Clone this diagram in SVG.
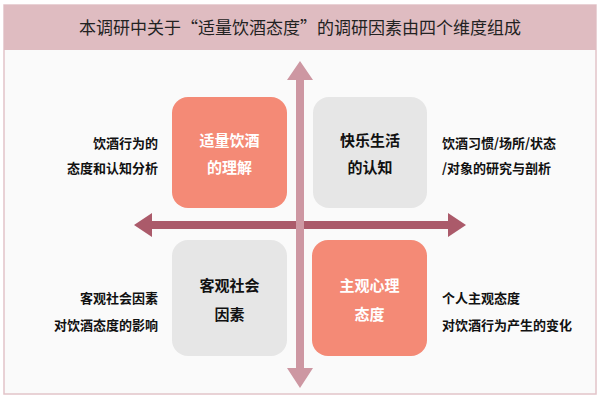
<svg xmlns="http://www.w3.org/2000/svg" width="600" height="400" viewBox="0 0 600 400">
<style>
text{font-family:"Noto Sans CJK SC","Noto Sans",sans-serif}
.bt{font-size:15px;font-weight:bold;text-anchor:middle}
.lb{font-size:13px;font-weight:bold;fill:#111}
.w{fill:#fff}.d{fill:#111}
.sal{fill:#f48a76}.gr{fill:#e6e6e6}
</style>
<rect x="0" y="0" width="600" height="400" fill="#fff"/>
<rect x="4" y="5" width="592" height="389" fill="#fafafa" stroke="#e2c4c9" stroke-width="1.5"/>
<rect x="4" y="5" width="592" height="45" fill="#dfbcc1"/>
<text x="300" y="34" font-size="17" text-anchor="middle" fill="#222">本调研中关于“适量饮酒态度”的调研因素由四个维度组成</text>
<g id="connectors">
<path d="M152,221 H448 V213 L466,225 L448,237 V229 H152 V237 L134,225 L152,213 Z" fill="#ab5a6a"/>
<path d="M296,80 V368 H287 L300,388 L313,368 H304 V80 H313 L300,61 L287,80 Z" fill="#cd97a2"/>
</g>
<g id="n1"><rect x="172" y="97" width="115" height="111" rx="16" class="sal"/><text x="229.5" y="146" class="bt w">适量饮酒</text><text x="229.5" y="173" class="bt w">的理解</text></g>
<g id="n2"><rect x="313" y="97" width="114" height="111" rx="16" class="gr"/><text x="370" y="146" class="bt d">快乐生活</text><text x="370" y="173" class="bt d">的认知</text></g>
<g id="n3"><rect x="172" y="240" width="115" height="116" rx="16" class="gr"/><text x="229.5" y="291" class="bt d">客观社会</text><text x="229.5" y="320" class="bt d">因素</text></g>
<g id="n4"><rect x="312" y="240" width="115" height="116" rx="16" class="sal"/><text x="369.5" y="291" class="bt w">主观心理</text><text x="369.5" y="320" class="bt w">态度</text></g>
<g id="l1"><text x="158" y="148" class="lb" text-anchor="end">饮酒行为的</text><text x="158" y="173" class="lb" text-anchor="end">态度和认知分析</text></g>
<g id="l2"><text x="442" y="148" class="lb">饮酒习惯/场所/状态</text><text x="442" y="173" class="lb">/对象的研究与剖析</text></g>
<g id="l3"><text x="158" y="303" class="lb" text-anchor="end">客观社会因素</text><text x="158" y="330" class="lb" text-anchor="end">对饮酒态度的影响</text></g>
<g id="l4"><text x="442" y="303" class="lb">个人主观态度</text><text x="442" y="330" class="lb">对饮酒行为产生的变化</text></g>
</svg>
